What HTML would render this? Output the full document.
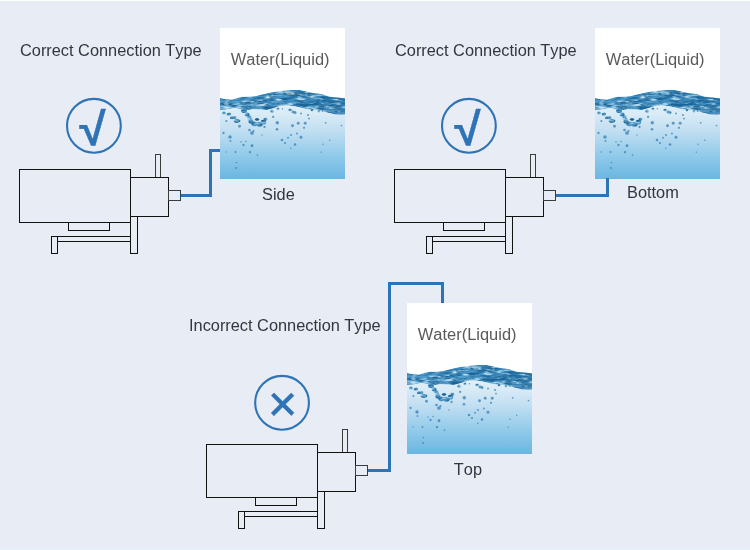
<!DOCTYPE html>
<html>
<head>
<meta charset="utf-8">
<title>Connection Type</title>
<style>
html,body{margin:0;padding:0;}
body{width:750px;height:550px;overflow:hidden;background:#e8ecf5;font-family:"Liberation Sans",sans-serif;}
svg{display:block;position:absolute;left:0;top:0;will-change:transform;}
.t{font-family:"Liberation Sans",sans-serif;font-size:16.35px;fill:#32363d;font-kerning:none;}
.w{font-family:"Liberation Sans",sans-serif;font-size:16.45px;fill:#595a5c;font-kerning:none;}
.pump rect{fill:#e8ecf5;stroke:#111;stroke-width:1;}
.ic{font-family:"Liberation Sans",sans-serif;fill:#2e73b5;}
.pipe{fill:none;stroke:#2e73b5;stroke-width:3;}
.ring{fill:none;stroke:#2e73b5;stroke-width:2.1;}
</style>
</head>
<body>
<svg width="750" height="550" viewBox="0 0 750 550">
<defs>
  <linearGradient id="wg" gradientUnits="userSpaceOnUse" x1="0" y1="62" x2="0" y2="151">
    <stop offset="0" stop-color="#eaf4fa"/>
    <stop offset="0.25" stop-color="#dbecf6"/>
    <stop offset="0.45" stop-color="#c2dff2"/>
    <stop offset="0.7" stop-color="#96cdeb"/>
    <stop offset="1" stop-color="#6ab6e1"/>
  </linearGradient>
  <linearGradient id="bg2" gradientUnits="userSpaceOnUse" x1="0" y1="62" x2="0" y2="88">
    <stop offset="0" stop-color="#3a88bc"/>
    <stop offset="0.45" stop-color="#4f9bca"/>
    <stop offset="1" stop-color="#8cc2e2"/>
  </linearGradient>
  <linearGradient id="bg3" gradientUnits="userSpaceOnUse" x1="55" y1="0" x2="125" y2="0">
    <stop offset="0" stop-color="#1f6a9e" stop-opacity="0"/>
    <stop offset="0.6" stop-color="#1f6a9e" stop-opacity="0.35"/>
    <stop offset="1" stop-color="#1f6a9e" stop-opacity="0.55"/>
  </linearGradient>
  <filter id="tex" filterUnits="userSpaceOnUse" x="-5" y="55" width="135" height="55" color-interpolation-filters="sRGB">
    <feTurbulence type="fractalNoise" baseFrequency="0.09 0.33" numOctaves="3" seed="11" result="n"/>
    <feColorMatrix in="n" type="matrix" values="0 0 0 0 0  0 0 0 0 0  0 0 0 0 0  3.4 0 0 0 -1.3" result="a"/>
    <feFlood flood-color="#1a6497" result="c"/>
    <feComposite in="c" in2="a" operator="in" result="d"/>
    <feColorMatrix in="n" type="matrix" values="0 0 0 0 0  0 0 0 0 0  0 0 0 0 0  0 -3.5 0 0 1.7" result="la"/>
    <feFlood flood-color="#c4e4f4" result="lc"/>
    <feComposite in="lc" in2="la" operator="in" result="l"/>
    <feMerge result="m"><feMergeNode in="SourceGraphic"/><feMergeNode in="d"/><feMergeNode in="l"/></feMerge>
    <feComposite in="m" in2="SourceGraphic" operator="in" result="o"/>
    <feGaussianBlur in="o" stdDeviation="0.75"/>
  </filter>
  <filter id="bb" filterUnits="userSpaceOnUse" x="-5" y="55" width="135" height="100"><feGaussianBlur stdDeviation="0.6"/></filter>
  <clipPath id="wc"><rect x="0" y="0" width="125" height="151"/></clipPath>
  <g id="water">
    <rect x="0" y="0" width="125" height="151" fill="#fff"/>
    <g clip-path="url(#wc)">
      <path d="M-3.0 70.3 L0.0 70.1 L6.0 71.2 L12.0 71.5 L21.0 69.1 L35.0 68.2 L48.0 64.9 L58.0 63.2 L65.0 62.6 L72.0 62.0 L80.0 62.1 L90.0 64.5 L102.0 66.3 L110.0 68.7 L118.0 69.5 L125.0 70.5 L128.0 70.7 V152 H-3 Z" fill="url(#wg)"/>
      <g filter="url(#tex)" fill="url(#bg2)"><path d="M-3.0 70.3 L0.0 70.1 L6.0 71.2 L12.0 71.5 L21.0 69.1 L35.0 68.2 L48.0 64.9 L58.0 63.2 L65.0 62.6 L72.0 62.0 L80.0 62.1 L90.0 64.5 L102.0 66.3 L110.0 68.7 L118.0 69.5 L125.0 70.5 L128.0 70.7 L128.0 86.5 L125.0 86.5 L122.0 86.8 L115.0 86.5 L110.0 85.0 L104.0 83.5 L99.0 82.0 L95.0 81.5 L90.0 81.2 L86.0 81.0 L80.0 79.5 L75.0 78.5 L68.0 77.5 L64.0 77.5 L60.0 78.0 L55.0 79.5 L50.0 81.0 L46.0 82.0 L40.0 81.5 L33.0 81.0 L28.0 82.0 L22.0 81.5 L15.0 80.0 L8.0 81.0 L0.0 82.0 L-3.0 82.0 Z"/><path d="M-3.0 70.3 L0.0 70.1 L6.0 71.2 L12.0 71.5 L21.0 69.1 L35.0 68.2 L48.0 64.9 L58.0 63.2 L65.0 62.6 L72.0 62.0 L80.0 62.1 L90.0 64.5 L102.0 66.3 L110.0 68.7 L118.0 69.5 L125.0 70.5 L128.0 70.7 L128.0 86.5 L125.0 86.5 L122.0 86.8 L115.0 86.5 L110.0 85.0 L104.0 83.5 L99.0 82.0 L95.0 81.5 L90.0 81.2 L86.0 81.0 L80.0 79.5 L75.0 78.5 L68.0 77.5 L64.0 77.5 L60.0 78.0 L55.0 79.5 L50.0 81.0 L46.0 82.0 L40.0 81.5 L33.0 81.0 L28.0 82.0 L22.0 81.5 L15.0 80.0 L8.0 81.0 L0.0 82.0 L-3.0 82.0 Z" fill="url(#bg3)"/><g fill="#4a93c3"><ellipse cx="24" cy="83" rx="3" ry="2"/><ellipse cx="27" cy="86.5" rx="2.6" ry="2.2"/><ellipse cx="29.5" cy="90" rx="2.4" ry="2.4"/><ellipse cx="31" cy="93.5" rx="2.6" ry="2.2"/><ellipse cx="34.5" cy="95.8" rx="3.4" ry="2.4"/><ellipse cx="39.5" cy="96.2" rx="3.2" ry="2.4"/><ellipse cx="43.5" cy="94.2" rx="2.8" ry="2.4"/><ellipse cx="45.5" cy="91" rx="2" ry="1.8"/><ellipse cx="37" cy="91.5" rx="2.2" ry="1.6"/><ellipse cx="17" cy="93" rx="3.4" ry="1.8"/><ellipse cx="12" cy="90" rx="2.2" ry="1.4"/><ellipse cx="9" cy="86" rx="2.2" ry="1.6"/><ellipse cx="4" cy="85" rx="2" ry="1.5"/><ellipse cx="52" cy="83" rx="2" ry="1.5"/><ellipse cx="58" cy="81" rx="1.6" ry="1.2"/><ellipse cx="70" cy="82" rx="1.8" ry="1.4"/><ellipse cx="75" cy="84.5" rx="1.5" ry="1.8"/><ellipse cx="99" cy="83" rx="1.6" ry="1.4"/><ellipse cx="92" cy="82" rx="1.4" ry="1.2"/></g></g>
      <g filter="url(#bb)" fill="#2f78ad" fill-opacity="0.7"><circle cx="19.5" cy="98.2" r="1.44"/><circle cx="44.5" cy="99.0" r="1.15"/><circle cx="57.0" cy="101.2" r="1.30"/><circle cx="32.0" cy="105.0" r="1.87"/><circle cx="29.5" cy="102.0" r="1.30"/><circle cx="33.5" cy="103.0" r="1.08"/><circle cx="10.0" cy="109.0" r="1.73"/><circle cx="10.5" cy="113.0" r="0.94"/><circle cx="62.0" cy="112.0" r="1.30"/><circle cx="65.0" cy="115.0" r="1.08"/><circle cx="32.0" cy="117.7" r="1.44"/><circle cx="23.5" cy="117.0" r="1.15"/><circle cx="30.0" cy="124.2" r="1.15"/><circle cx="15.5" cy="124.0" r="0.94"/><circle cx="37.5" cy="127.0" r="0.86"/><circle cx="16.5" cy="134.5" r="0.79"/><circle cx="16.0" cy="140.0" r="0.94"/><circle cx="3.5" cy="105.0" r="1.15"/><circle cx="72.5" cy="97.8" r="1.44"/><circle cx="84.0" cy="99.8" r="1.08"/><circle cx="77.0" cy="105.5" r="0.94"/><circle cx="81.0" cy="109.2" r="1.44"/><circle cx="71.0" cy="107.0" r="1.01"/><circle cx="68.0" cy="109.7" r="0.94"/><circle cx="75.0" cy="116.5" r="1.30"/><circle cx="70.8" cy="120.3" r="0.79"/><circle cx="109.7" cy="112.3" r="0.72"/><circle cx="103.0" cy="116.3" r="0.72"/><circle cx="101.3" cy="124.2" r="0.65"/><circle cx="121.5" cy="97.5" r="0.86"/><circle cx="53.1" cy="88.9" r="1.15"/><circle cx="57.3" cy="94.8" r="1.73"/><circle cx="62.4" cy="80.8" r="0.72"/><circle cx="6.4" cy="93.0" r="1.08"/><circle cx="7.8" cy="86.4" r="1.15"/><circle cx="14.8" cy="89.7" r="1.58"/><circle cx="73.0" cy="84.0" r="1.44"/><circle cx="81.0" cy="85.5" r="0.94"/><circle cx="88.0" cy="87.0" r="1.01"/><circle cx="89.0" cy="90.6" r="0.94"/><circle cx="78.2" cy="95.3" r="1.44"/><circle cx="85.2" cy="95.3" r="1.44"/><circle cx="105.7" cy="94.8" r="0.86"/><circle cx="102.5" cy="83.3" r="0.72"/><circle cx="21.0" cy="114.0" r="0.72"/><circle cx="26.0" cy="113.5" r="0.72"/><circle cx="42.0" cy="107.0" r="0.65"/><circle cx="6.0" cy="124.0" r="0.65"/></g>
    </g>
  </g>
  <g id="pump" class="pump">
    <rect x="155.5" y="154.5" width="5" height="23" style="stroke:#3c3c3c"/>
    <rect x="51.5" y="236.5" width="6" height="17"/>
    <rect x="57.5" y="236.5" width="73" height="5"/>
    <rect x="130.500" y="216.5" width="7" height="37"/>
    <rect x="68.5" y="222.5" width="41" height="8"/>
    <rect x="19.5" y="169.5" width="111" height="53"/>
    <rect x="130.5" y="177.5" width="38" height="39"/>
    <rect x="168.5" y="190.5" width="12" height="10" style="stroke:#3c3c3c"/>
  </g>
</defs>
<rect x="0" y="0" width="750" height="550" fill="#e8ecf5"/>
<rect x="0" y="0" width="750" height="1" fill="#fff"/>
<rect x="0" y="548" width="750" height="2" fill="#e6eef8"/>

<!-- panel 1 -->
<text class="t" x="20" y="56">Correct Connection Type</text>
<use href="#water" x="220" y="28"/>
<text class="w" x="280.2" y="64.8" text-anchor="middle">Water(Liquid)</text>
<text class="t" x="278.4" y="200" text-anchor="middle">Side</text>
<circle class="ring" cx="93.9" cy="125.8" r="26.9"/>
<text class="ic" transform="matrix(1.0295 0 0.0465 1 -8.195 0) translate(79.3 144.7) scale(1.045 1)" font-size="45.6" font-weight="bold" stroke="#2e73b5" stroke-width="0.4">√</text>
<use href="#pump"/>
<path class="pipe" d="M181 195.5 H210.5 V150.5 H220"/>

<!-- panel 2 -->
<text class="t" x="395" y="56">Correct Connection Type</text>
<use href="#water" x="595" y="28"/>
<text class="w" x="655.2" y="64.8" text-anchor="middle">Water(Liquid)</text>
<text class="t" x="652.9" y="198" text-anchor="middle">Bottom</text>
<circle class="ring" cx="468.9" cy="125.8" r="26.9"/>
<text class="ic" transform="translate(375 0) matrix(1.0295 0 0.0465 1 -8.195 0) translate(79.3 144.7) scale(1.045 1)" font-size="45.6" font-weight="bold" stroke="#2e73b5" stroke-width="0.4">√</text>
<use href="#pump" x="375"/>
<path class="pipe" d="M556 195.5 H607.5 V178"/>

<!-- panel 3 -->
<text class="t" x="189" y="331">Incorrect Connection Type</text>
<use href="#water" x="407" y="303"/>
<text class="w" x="467.2" y="339.8" text-anchor="middle">Water(Liquid)</text>
<text class="t" x="467.9" y="475" text-anchor="middle">Top</text>
<circle class="ring" cx="282.05" cy="402.8" r="26.9"/>
<text class="ic" x="267.9" y="420.9" font-size="50.1" stroke="#2e73b5" stroke-width="0.6">×</text>
<use href="#pump" x="187" y="275"/>
<path class="pipe" d="M368 470.5 H389.5 V283.5 H442.5 V303"/>
</svg>
</body>
</html>
